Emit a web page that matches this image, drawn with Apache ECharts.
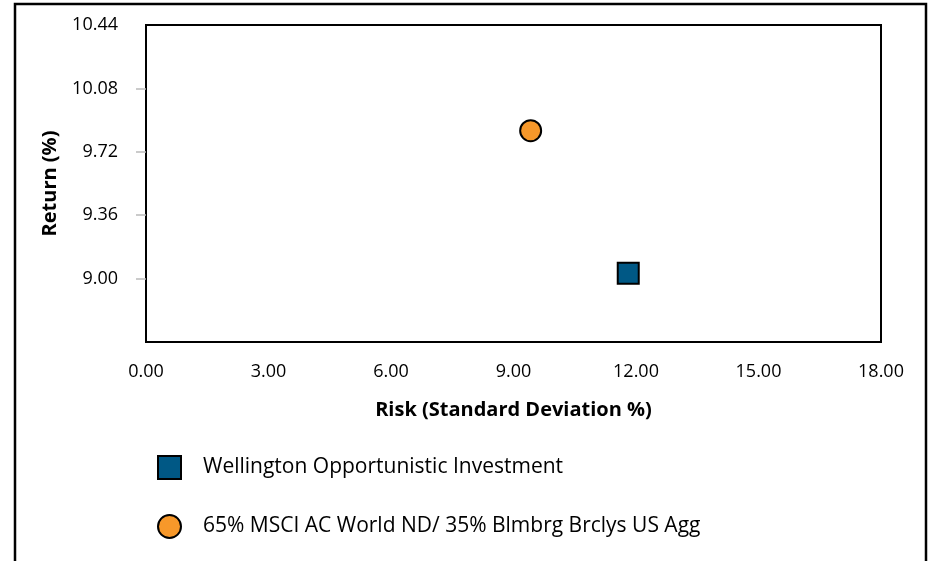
<!DOCTYPE html>
<html>
<head>
<meta charset="utf-8">
<script src="https://cdn.jsdelivr.net/npm/echarts@6/dist/echarts.min.js"></script>
<style>html,body{margin:0;padding:0;background:#fff}#c{width:932px;height:561px}</style>
</head>
<body>
<div id="c"></div>
<script>
const seriesNames = ['Wellington Opportunistic Investment', '65% MSCI AC World ND/ 35% Blmbrg Brclys US Agg'];
const riskValues = [11.81, 9.42];
const returnValues = [9.03, 9.84];
const xTicks = [0, 3, 6, 9, 12, 15, 18];
const yTicks = [8.64, 9.00, 9.36, 9.72, 10.08, 10.44];
const yLabelTicks = [9.00, 9.36, 9.72, 10.08, 10.44];
const yTickMarks = [9.00, 9.36, 9.72, 10.08];

const FONT = 'Open Sans';
const chart = echarts.init(document.getElementById('c'));
chart.setOption({
  animation: false,
  backgroundColor: '#fff',
  textStyle: { fontFamily: FONT },
  graphic: [{
    type: 'polyline',
    shape: { points: [[15, 600], [15, 4], [926, 4], [926, 600]] },
    style: { stroke: '#000', lineWidth: 2.5, fill: null }
  }],
  grid: { left: 146, top: 25, right: 51, bottom: 219, show: true, borderColor: '#000', borderWidth: 2 },
  xAxis: {
    type: 'value', min: xTicks[0], max: xTicks[xTicks.length - 1], interval: 3,
    name: 'Risk (Standard Deviation %)', nameLocation: 'middle', nameGap: 58,
    nameTextStyle: { fontFamily: FONT, fontWeight: 'bold', fontSize: 20, color: '#000' },
    axisLine: { show: true, lineStyle: { color: '#000', width: 2 } },
    axisTick: { show: false },
    splitLine: { show: false },
    axisLabel: { fontFamily: FONT, fontSize: 18, color: '#000', margin: 21, formatter: v => v.toFixed(2) }
  },
  yAxis: {
    type: 'value', min: yTicks[0], max: yTicks[yTicks.length - 1], interval: 0.36,
    name: 'Return (%)', nameLocation: 'middle', nameGap: 86, nameRotate: 90,
    nameTextStyle: { fontFamily: FONT, fontWeight: 'bold', fontSize: 20, color: '#000' },
    axisLine: { show: true, lineStyle: { color: '#000', width: 2 } },
    axisTick: { show: true, length: 10, customValues: yTickMarks, lineStyle: { color: '#bbb', width: 1.5 } },
    splitLine: { show: false },
    axisLabel: { fontFamily: FONT, fontSize: 18, color: '#000', margin: 28, customValues: yLabelTicks,
      formatter: v => (Math.abs(v - yTicks[0]) < 1e-6 ? '' : v.toFixed(2)) }
  },
  legend: {
    orient: 'vertical', left: 152, top: 450, itemGap: 34, itemWidth: 23, itemHeight: 23,
    textStyle: { fontFamily: FONT, fontSize: 21, color: '#000', padding: [0, 0, 0, 17] },
    data: [
      { name: seriesNames[0], icon: 'rect' },
      { name: seriesNames[1], icon: 'circle' }
    ]
  },
  series: [
    {
      name: seriesNames[0], type: 'scatter', symbol: 'rect', symbolSize: 21,
      itemStyle: { color: '#005885', borderColor: '#000', borderWidth: 2, opacity: 1 },
      data: [[riskValues[0], returnValues[0]]]
    },
    {
      name: seriesNames[1], type: 'scatter', symbol: 'circle', symbolSize: 21,
      itemStyle: { color: '#F7982A', borderColor: '#000', borderWidth: 2, opacity: 1 },
      data: [[riskValues[1], returnValues[1]]]
    }
  ]
});
</script>
</body>
</html>
